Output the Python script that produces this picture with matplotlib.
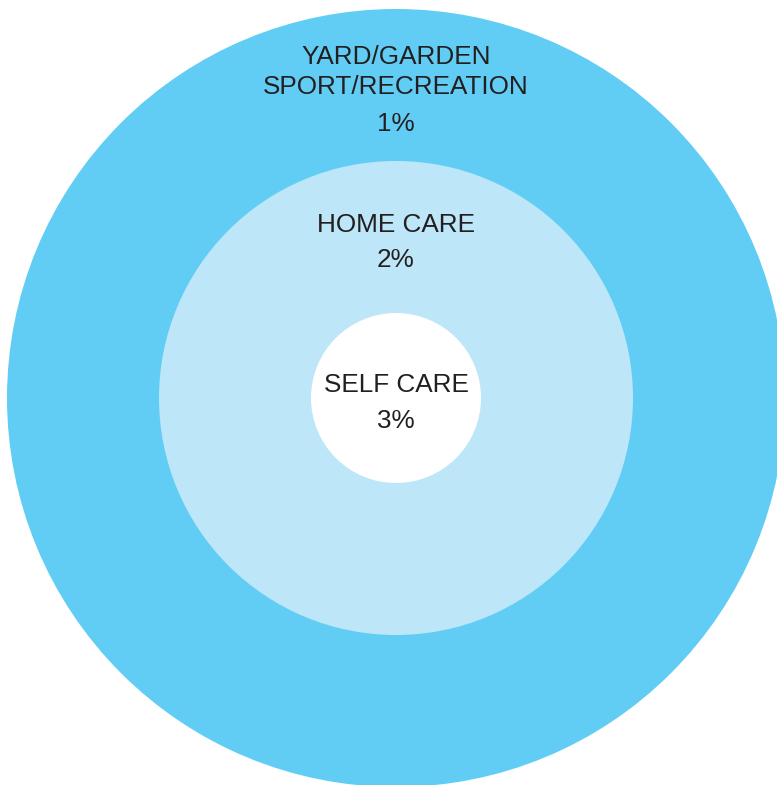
import matplotlib.pyplot as plt
from matplotlib.patches import Circle

# rings from outside in
labels = ["YARD/GARDEN\nSPORT/RECREATION", "HOME CARE", "SELF CARE"]
shares = [1, 2, 3]

colors = ["#62CDF4", "#BDE6F8", "#FFFFFF"]
radii = [389, 237, 85]
label_y = [[72, 124], [225, 260], [385, 421]]


def main():
    plt.rcParams['font.family'] = ['Liberation Sans', 'DejaVu Sans']
    fig = plt.figure(figsize=(7.77, 7.85), dpi=100)
    ax = fig.add_axes([0, 0, 1, 1])
    ax.set_xlim(0, 777)
    ax.set_ylim(785, 0)
    ax.set_aspect('equal')
    ax.axis('off')

    cx, cy = 396, 398
    for lab, val, col, r, (ly, vy) in zip(labels, shares, colors, radii, label_y):
        ax.add_patch(Circle((cx, cy), r, facecolor=col, edgecolor='none'))
        ax.text(cx, ly, lab, ha='center', va='center', fontsize=18.8,
                color='#231F20', linespacing=1.28)
        ax.text(cx, vy, f"{val}%", ha='center', va='center', fontsize=18.8,
                color='#231F20')

    fig.savefig("out.png", dpi=100)


if __name__ == "__main__":
    main()
